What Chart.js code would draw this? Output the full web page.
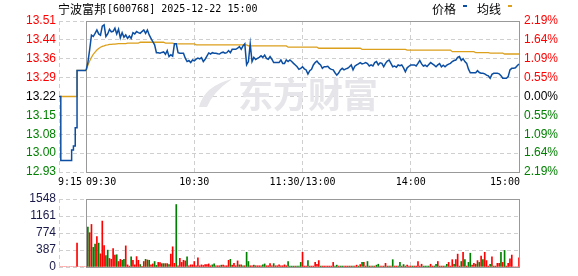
<!DOCTYPE html>
<html>
<head>
<meta charset="utf-8">
<script src="https://cdn.jsdelivr.net/npm/chart.js@4.4.1/dist/chart.umd.min.js"></script>
<style>
body{margin:0;background:#fff;}
#wrap{position:relative;width:578px;height:276px;}
canvas{position:absolute;left:0;}
</style>
</head>
<body>
<div id="wrap">
<canvas id="price" width="578" height="190" style="top:0"></canvas>
<canvas id="vol" width="578" height="86" style="top:190px"></canvas>
</div>
<script>
//intraday minute chart 宁波富邦

const stockName = '宁波富邦';
const stockCode = '600768';
const stamp = '2025-12-22 15:00';
const prevClose = 13.22;
const pctRange = 2.19;

const xTickIdx = [0, 15, 75, 135, 195, 255];
const xTickText = ['9:15', '09:30', '10:30', '11:30/13:00', '14:00', '15:00'];
const xTickAlign = ['left', 'left', 'center', 'center', 'center', 'right'];
const priceTickText = ['13.51', '13.44', '13.36', '13.29', '13.22', '13.15', '13.08', '13.00', '12.93'];
const pctTickText = ['2.19%', '1.64%', '1.09%', '0.55%', '0.00%', '0.55%', '1.09%', '1.64%', '2.19%'];
const volTickValues = [1548, 1161, 774, 387, 0];

// call auction 9:15 - 9:30
const auctionPrice = [13.22, 12.975, 12.975, 12.975, 12.975, 12.975, 12.975, 13.015, 13.03, 13.10,
  13.32, 13.32, 13.32, 13.32, 13.32, 13.32];
const auctionAvg = [13.22, 13.22, 13.22, 13.22, 13.22, 13.22, 13.22, 13.22, 13.22, 13.22,
  13.32, 13.32, 13.32, 13.32, 13.32, 13.32];

// 9:30 - 15:00 one value a minute (11:30 and 13:00 share a slot)
const price = [
  13.32, 13.35, 13.40, 13.455, 13.45, 13.462, 13.475, 13.46, 13.455, 13.49,
  13.495, 13.45, 13.46, 13.478, 13.468, 13.47, 13.482, 13.46, 13.478, 13.445,
  13.465, 13.447, 13.456, 13.443, 13.452, 13.443, 13.465, 13.46, 13.469, 13.465,
  13.462, 13.469, 13.475, 13.462, 13.475, 13.456, 13.443, 13.43, 13.418, 13.388,
  13.388, 13.386, 13.389, 13.391, 13.382, 13.396, 13.373, 13.38, 13.375, 13.422,
  13.422, 13.388, 13.386, 13.386, 13.386, 13.367, 13.354, 13.358, 13.35, 13.36,
  13.357, 13.363, 13.367, 13.364, 13.369, 13.354, 13.363, 13.375, 13.387, 13.383,
  13.388, 13.386, 13.386, 13.384, 13.383, 13.388, 13.39, 13.386, 13.388, 13.396,
  13.388, 13.401, 13.401, 13.401, 13.405, 13.411, 13.401, 13.414, 13.422, 13.342,
  13.354, 13.422, 13.354, 13.37, 13.362, 13.366, 13.37, 13.376, 13.37, 13.379,
  13.366, 13.363, 13.373, 13.363, 13.35, 13.35, 13.35, 13.35, 13.36, 13.347,
  13.347, 13.36, 13.354, 13.36, 13.354, 13.347, 13.341, 13.334, 13.324, 13.328,
  13.334, 13.326, 13.322, 13.306, 13.319, 13.324, 13.341, 13.35, 13.356, 13.347,
  13.341, 13.328, 13.334, 13.334, 13.336, 13.328, 13.324, 13.322, 13.311, 13.302,
  13.31, 13.322, 13.328, 13.322, 13.326, 13.328, 13.334, 13.341, 13.322, 13.336,
  13.341, 13.345, 13.35, 13.345, 13.347, 13.35, 13.346, 13.337, 13.341, 13.337,
  13.35, 13.354, 13.341, 13.349, 13.347, 13.334, 13.347, 13.356, 13.36, 13.347,
  13.334, 13.337, 13.332, 13.341, 13.338, 13.341, 13.33, 13.315, 13.33, 13.336,
  13.341, 13.341, 13.341, 13.337, 13.347, 13.358, 13.345, 13.337, 13.34, 13.335,
  13.343, 13.35, 13.345, 13.34, 13.334, 13.341, 13.346, 13.334, 13.34, 13.334,
  13.34, 13.344, 13.347, 13.354, 13.358, 13.36, 13.37, 13.373, 13.358, 13.365,
  13.354, 13.347, 13.325, 13.311, 13.311, 13.311, 13.311, 13.319, 13.312, 13.309,
  13.309, 13.307, 13.302, 13.299, 13.29, 13.305, 13.309, 13.309, 13.309, 13.307,
  13.3, 13.29, 13.29, 13.29, 13.296, 13.322, 13.328, 13.328, 13.33, 13.338,
  13.345
];

const avgPrice = [
  13.318, 13.34, 13.356, 13.37, 13.382, 13.39, 13.398, 13.404, 13.409, 13.412,
  13.414, 13.417, 13.418, 13.42, 13.42, 13.421, 13.421, 13.422, 13.423, 13.423,
  13.423, 13.423, 13.423, 13.425, 13.425, 13.425, 13.425, 13.425, 13.425, 13.425,
  13.428, 13.428, 13.428, 13.428, 13.428, 13.428, 13.428, 13.428, 13.428, 13.428,
  13.428, 13.428, 13.428, 13.428, 13.425, 13.425, 13.425, 13.425, 13.425, 13.422,
  13.422, 13.422, 13.422, 13.422, 13.422, 13.422, 13.422, 13.422, 13.422, 13.422,
  13.422, 13.418, 13.418, 13.418, 13.418, 13.418, 13.418, 13.418, 13.418, 13.418,
  13.418, 13.418, 13.418, 13.418, 13.418, 13.418, 13.418, 13.418, 13.418, 13.418,
  13.418, 13.418, 13.418, 13.418, 13.418, 13.418, 13.418, 13.418, 13.418, 13.418,
  13.414, 13.414, 13.414, 13.414, 13.414, 13.414, 13.414, 13.414, 13.414, 13.414,
  13.414, 13.414, 13.414, 13.414, 13.414, 13.414, 13.414, 13.414, 13.414, 13.414,
  13.414, 13.414, 13.409, 13.409, 13.409, 13.409, 13.409, 13.409, 13.409, 13.409,
  13.409, 13.409, 13.409, 13.409, 13.409, 13.409, 13.409, 13.409, 13.409, 13.405,
  13.405, 13.405, 13.405, 13.405, 13.405, 13.405, 13.405, 13.405, 13.405, 13.405,
  13.405, 13.405, 13.405, 13.405, 13.405, 13.405, 13.405, 13.405, 13.405, 13.405,
  13.405, 13.405, 13.405, 13.401, 13.401, 13.401, 13.401, 13.401, 13.401, 13.401,
  13.401, 13.401, 13.401, 13.401, 13.401, 13.401, 13.401, 13.401, 13.401, 13.401,
  13.401, 13.401, 13.401, 13.401, 13.401, 13.401, 13.401, 13.401, 13.398, 13.398,
  13.398, 13.398, 13.398, 13.398, 13.398, 13.398, 13.398, 13.398, 13.398, 13.398,
  13.398, 13.398, 13.398, 13.398, 13.398, 13.398, 13.398, 13.398, 13.398, 13.398,
  13.398, 13.398, 13.398, 13.392, 13.392, 13.392, 13.392, 13.392, 13.392, 13.392,
  13.392, 13.392, 13.392, 13.392, 13.392, 13.392, 13.388, 13.388, 13.388, 13.388,
  13.388, 13.388, 13.388, 13.388, 13.386, 13.386, 13.386, 13.386, 13.386, 13.386,
  13.386, 13.386, 13.383, 13.383, 13.383, 13.383, 13.383, 13.383, 13.383, 13.383,
  13.383
];

// volume per minute 9:15 - 15:00, lots
const volume = [
  0, 0, 0, 0, 0, 0, 0, 0, 0, 0,
  544, 0, 0, 0, 0, 0,
  906, 781, 969, 446, 523, 690, 544, 300, 1046, 488,
  258, 384, 195, 174, 418, 272, 279, 125, 174, 153,
  174, 481, 49, 21, 230, 153, 49, 237, 153, 56,
  14, 125, 174, 160, 153, 49, 70, 125, 35, 105,
  98, 77, 77, 77, 77, 56, 293, 460, 84, 1422,
  28, 195, 105, 153, 139, 230, 28, 49, 49, 125,
  28, 209, 28, 49, 35, 56, 56, 70, 28, 49,
  70, 28, 28, 28, 42, 42, 28, 28, 153, 174,
  42, 84, 28, 139, 49, 49, 28, 28, 335, 125,
  28, 28, 42, 28, 28, 28, 28, 49, 70, 28,
  28, 77, 28, 77, 28, 28, 49, 28, 28, 49,
  28, 125,
  20, 20, 20, 20, 20, 20, 105, 335, 21, 21,
  146, 21, 21, 21, 105, 63, 146, 21, 21, 21,
  21, 21, 21, 21, 105, 21, 42, 21, 21, 21,
  21, 21, 21, 21, 21, 21, 21, 42, 21, 56,
  105, 105, 21, 125, 21, 21, 21, 21, 42, 63,
  21, 21, 21, 84, 21, 21, 21, 167, 21, 21,
  21, 105, 21, 56, 21, 42, 21, 21, 21, 21,
  21, 125, 21, 63, 21, 21, 21, 21, 63, 21,
  21, 63, 125, 21, 21, 21, 21, 63, 105, 21,
  167, 63, 167, 293, 21, 125, 335, 167, 21, 105,
  314, 42, 84, 63, 146, 105, 251, 167, 335, 146,
  21, 63, 230, 21, 21, 84, 84, 335, 105, 377,
  21, 84, 188, 272, 0, 0, 0, 209
];

// R = up minute, G = down minute
const volDir = [
  'RRRRRRRRRRRRRRRR',
  'GRRGGRGRRR', 'GGRRRRGRRG', 'GRRRGRRRRG', 'RRGRGRRGGR', 'RGRGRGRRRG',
  'RRRRRGRRRR', 'RRRRRRRRRG', 'GRRRGRRRRG', 'RRRRGRGRGG', 'RRGRRRRGGR',
  'RRRGRRRRRR', 'RG',
  'GGGRGGGRRR', 'GRRRRRRGRR', 'RRRRRGGRGG', 'RRRGRGRRGR', 'GRRGGRGRGG',
  'RRGRRGRGRR', 'GGRGGRRRGR', 'RRRRGGGGRR', 'GGRGRRGGRR', 'RGRRRGRGRG',
  'GRRGRGRGRR', 'RGRGRRRGRG', 'RRRRRRRR'
].join('').split('');

const red = '#ff0000';
const green = '#008000';
const blue = '#0b4ea2';
const gold = '#dca01c';
const gridColor = '#cfcfcf';

const times = [];
for (let i = 0; i < 256; i++) {
  const t = i <= 135 ? 9 * 60 + 15 + i : 13 * 60 + (i - 135);
  times.push(Math.floor(t / 60) + ':' + String(t % 60).padStart(2, '0'));
}

const lo = prevClose * (1 - pctRange / 100);
const hi = prevClose * (1 + pctRange / 100);
const gap = Array(15).fill(null);
const tail = Array(240).fill(null);

function signColor(i) {
  return i < 4 ? red : (i === 4 ? '#000' : green);
}

function drawFrame(chart) {
  const ctx = chart.ctx, a = chart.chartArea, x = chart.scales.x;
  const l = Math.round(x.getPixelForValue(15)) + 0.5;
  const r = Math.round(x.getPixelForValue(255)) + 0.5;
  const t = Math.round(a.top) + 0.5, b = Math.round(a.bottom) + 0.5;
  ctx.save();
  ctx.setLineDash([]);
  ctx.strokeStyle = '#999';
  ctx.lineWidth = 1;
  ctx.strokeRect(l, t, r - l, b - t);
  ctx.restore();
}

function xAxis(showGrid) {
  return {
    type: 'category',
    offset: false,
    afterFit: s => { s.height = 0; },
    afterBuildTicks: s => { s.ticks = xTickIdx.map(v => ({ value: v })); },
    grid: {
      drawTicks: false,
      offset: false,
      color: c => (c.tick && (c.tick.value === 15 || c.tick.value === 255)) ? 'rgba(0,0,0,0)' : gridColor
    },
    border: { display: false, dash: [4, 3] },
    ticks: { display: false, autoSkip: false }
  };
}

const tickFont = { family: 'Liberation Sans', size: 12, lineHeight: 1 };

const pricePlugin = {
  id: 'priceDeco',
  beforeDatasetsDraw(chart) {
    const ctx = chart.ctx;
    ctx.save();
    // watermark
    ctx.fillStyle = '#e6e6ea';
    ctx.font = 'bold 35px "Noto Sans CJK SC"';
    ctx.textBaseline = 'middle';
    ctx.textAlign = 'left';
    ctx.fillText('东方财富', 238, 95);
    ctx.beginPath();
    ctx.moveTo(199, 107);
    ctx.quadraticCurveTo(204, 86, 232, 79);
    ctx.quadraticCurveTo(213, 92, 207, 107);
    ctx.closePath();
    ctx.fill();
    ctx.restore();
    drawFrame(chart);
  },
  afterDraw(chart) {
    const ctx = chart.ctx, x = chart.scales.x;
    ctx.save();
    ctx.fillStyle = '#000';
    ctx.textBaseline = 'middle';
    ctx.textAlign = 'left';
    ctx.font = '12px "Noto Sans CJK SC"';
    ctx.fillText(stockName, 58, 9);
    const w = ctx.measureText(stockName).width;
    ctx.font = '10px "DejaVu Sans Mono"';
    ctx.fillText('[' + stockCode + '] ' + stamp, 58 + w + 1, 9);

    ctx.font = '12px "Noto Sans CJK SC"';
    ctx.fillText('价格', 432, 9);
    ctx.fillText('均线', 477, 9);
    ctx.fillStyle = blue;
    ctx.fillRect(463, 5, 4, 2);
    ctx.fillStyle = gold;
    ctx.fillRect(508, 5, 4, 2);

    ctx.fillStyle = '#000';
    ctx.font = '10px "DejaVu Sans Mono"';
    xTickIdx.forEach((v, i) => {
      ctx.textAlign = xTickAlign[i];
      let px = x.getPixelForValue(v);
      if (i === 0) px -= 1;
      if (i === 5) px += 1;
      ctx.fillText(xTickText[i], px, 182);
    });
    ctx.restore();
  }
};

const volPlugin = {
  id: 'volDeco',
  beforeDatasetsDraw(chart) { drawFrame(chart); }
};

chartIt();

function chartIt() {
  Chart.defaults.font.family = 'Liberation Sans';

  new Chart(document.getElementById('price').getContext('2d'), {
    type: 'line',
    data: {
      labels: times,
      datasets: [
        { data: auctionPrice.concat(tail), borderColor: blue, borderWidth: 1.5, stepped: true, pointRadius: 0 },
        { data: gap.concat(price), borderColor: blue, borderWidth: 1.5, pointRadius: 0 },
        { data: auctionAvg.concat(tail), borderColor: gold, borderWidth: 1.3, stepped: true, pointRadius: 0 },
        { data: gap.concat(avgPrice), borderColor: gold, borderWidth: 1.3, pointRadius: 0 }
      ]
    },
    options: {
      responsive: false,
      animation: false,
      devicePixelRatio: 1,
      layout: { padding: { top: 21, bottom: 18, left: 0, right: 0 } },
      plugins: { legend: { display: false }, tooltip: { enabled: false } },
      scales: {
        x: xAxis(),
        y: {
          position: 'left',
          min: lo,
          max: hi,
          afterFit: s => { s.width = 59; },
          afterBuildTicks: s => { s.ticks = priceTickText.map((t, i) => ({ value: hi - i * (hi - lo) / 8 })); },
          grid: { color: gridColor, drawTicks: false },
          border: { display: false, dash: [4, 3] },
          ticks: { padding: 3, font: tickFont, color: c => signColor(c.index), callback: (v, i) => priceTickText[i] }
        },
        yr: {
          position: 'right',
          min: -pctRange,
          max: pctRange,
          afterFit: s => { s.width = 59; },
          afterBuildTicks: s => { s.ticks = pctTickText.map((t, i) => ({ value: pctRange - i * pctRange / 4 })); },
          grid: { display: false, drawTicks: false },
          border: { display: false },
          ticks: { padding: 5, font: tickFont, color: c => signColor(c.index), callback: (v, i) => pctTickText[i] }
        }
      }
    },
    plugins: [pricePlugin]
  });

  new Chart(document.getElementById('vol').getContext('2d'), {
    type: 'bar',
    data: {
      labels: times,
      datasets: [{
        data: volume,
        backgroundColor: volDir.map(d => d === 'R' ? red : green),
        barThickness: 1,
        borderWidth: 0
      }]
    },
    options: {
      responsive: false,
      animation: false,
      devicePixelRatio: 1,
      layout: { padding: { top: 6, bottom: 6, left: 0, right: 59 } },
      plugins: { legend: { display: false }, tooltip: { enabled: false } },
      scales: {
        x: xAxis(),
        y: {
          position: 'left',
          min: 0,
          max: volTickValues[0],
          afterFit: s => { s.width = 59; },
          afterBuildTicks: s => { s.ticks = volTickValues.map(v => ({ value: v })); },
          grid: { color: gridColor, drawTicks: false },
          border: { display: false, dash: [4, 3] },
          ticks: { padding: 3, font: tickFont, color: '#1a1a4a', callback: v => String(v) }
        }
      }
    },
    plugins: [volPlugin]
  });
}
</script>
</body>
</html>
